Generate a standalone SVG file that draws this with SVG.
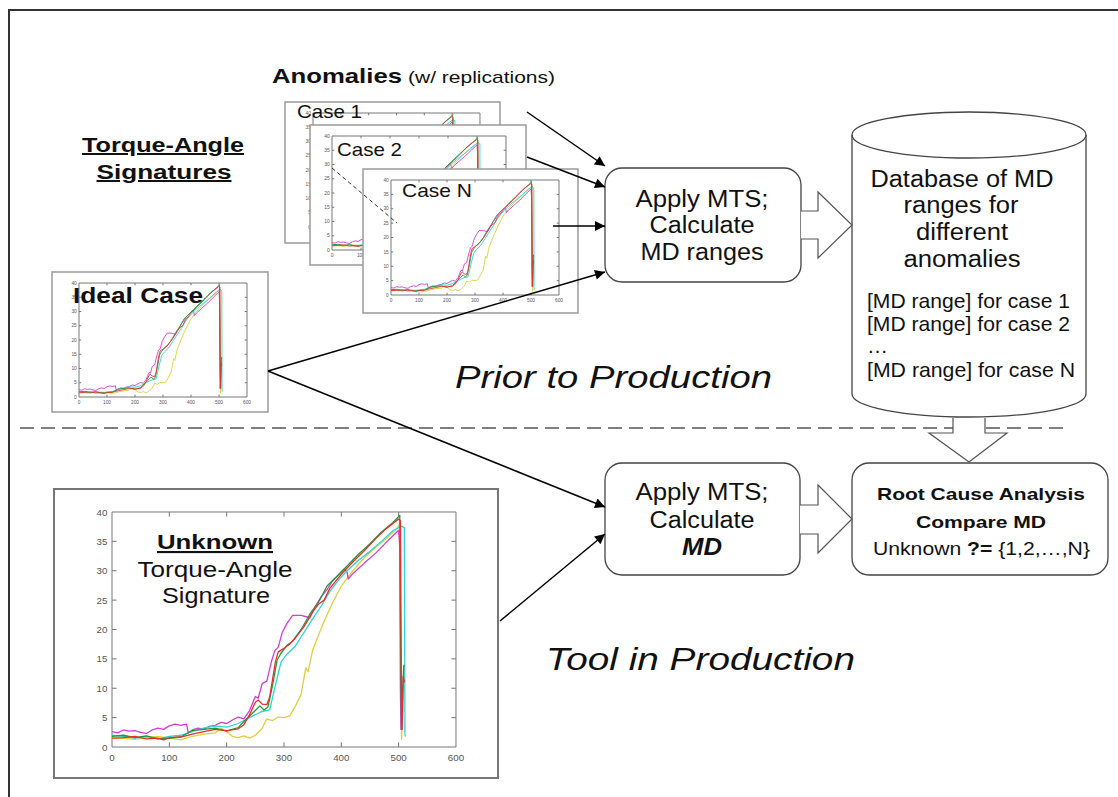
<svg xmlns="http://www.w3.org/2000/svg" xmlns:xlink="http://www.w3.org/1999/xlink" width="1118" height="797" viewBox="0 0 1118 797">
<style>
text{font-family:"Liberation Sans",Arial,sans-serif;fill:#111}
.frame{fill:#fff;stroke:#9a9a9a;stroke-width:1.5}
.box{fill:#fff;stroke:#444;stroke-width:1.3}
.blk{fill:#fff;stroke:#555;stroke-width:1.2}
.c{fill:none;vector-effect:non-scaling-stroke;stroke-linejoin:round}
.ax{fill:none;stroke:#777;vector-effect:non-scaling-stroke;stroke-width:1}
.tl{font-size:17px;fill:#555}
.conn{stroke:#000;stroke-width:1.5;fill:none;marker-end:url(#ah)}
.b{font-weight:bold}
.u{text-decoration:underline}
.big{font-size:23px}
</style>
<defs>
<marker id="ah" viewBox="0 0 10 10" refX="10" refY="5" markerWidth="13" markerHeight="10" markerUnits="userSpaceOnUse" orient="auto"><path d="M0,0 L10,5 L0,10 z" fill="#000"/></marker>
<g id="axes">
<rect class="ax" x="0" y="-400" width="600" height="400"/>
<path class="ax" d="M100,0v-8M200,0v-8M300,0v-8M400,0v-8M500,0v-8M100,-400v8M200,-400v8M300,-400v8M400,-400v8M500,-400v8M0,-50h8M0,-100h8M0,-150h8M0,-200h8M0,-250h8M0,-300h8M0,-350h8M600,-50h-8M600,-100h-8M600,-150h-8M600,-200h-8M600,-250h-8M600,-300h-8M600,-350h-8"/>
<g class="tl" text-anchor="end">
<text x="-8" y="6" class="tl">0</text><text x="-8" y="-44" class="tl">5</text><text x="-8" y="-94" class="tl">10</text><text x="-8" y="-144" class="tl">15</text><text x="-8" y="-194" class="tl">20</text><text x="-8" y="-244" class="tl">25</text><text x="-8" y="-294" class="tl">30</text><text x="-8" y="-344" class="tl">35</text><text x="-8" y="-394" class="tl">40</text>
</g>
<g text-anchor="middle">
<text x="0" y="24" class="tl">0</text><text x="100" y="24" class="tl">100</text><text x="200" y="24" class="tl">200</text><text x="300" y="24" class="tl">300</text><text x="400" y="24" class="tl">400</text><text x="500" y="24" class="tl">500</text><text x="600" y="24" class="tl">600</text>
</g>
</g>
<g id="curves">
<polyline class="c" stroke="#e0cf3a" points="0,-14 20,-15 40,-13 60,-16 80,-18 100,-15 120,-12 140,-18 160,-22 180,-24 190,-32 200,-26 210,-18 220,-16 230,-19 240,-15 250,-20 262,-32 270,-48 280,-45 290,-51 300,-50 310,-53 320,-70 330,-90 338,-135 342,-128 350,-165 360,-190 370,-214 385,-246 400,-274 420,-300 440,-322 460,-340 480,-356 495,-370 503,-380 504,-200 505,-13 508,-80 510,-140"/>
<polyline class="c" stroke="#d43cd4" points="0,-26 10,-24 20,-29 30,-27 40,-28 50,-25 60,-23 70,-29 80,-32 90,-30 100,-36 110,-39 120,-37 130,-39 133,-24 140,-29 150,-32 160,-30 170,-35 180,-37 190,-42 200,-40 210,-46 220,-51 230,-48 240,-62 250,-86 255,-83 262,-108 270,-112 278,-145 284,-164 290,-170 297,-195 305,-210 315,-224 330,-224 345,-220 355,-240 365,-256 375,-268 385,-283 395,-293 405,-303 410,-298 412,-286 420,-295 440,-313 460,-330 480,-350 500,-369 502,-340 503,-100 504,-30 506,-60"/>
<polyline class="c" stroke="#30d4d4" points="0,-20 20,-18 40,-15 60,-18 80,-14 100,-18 120,-20 140,-26 160,-32 180,-36 200,-34 220,-40 240,-50 260,-60 275,-63 285,-105 295,-145 305,-158 320,-172 335,-195 350,-218 365,-240 380,-265 395,-284 410,-300 430,-318 450,-333 470,-350 490,-368 505,-376 510,-373 511,-20 512,-18"/>
<polyline class="c" stroke="#1f9a3a" points="0,-18 20,-20 40,-16 60,-19 80,-14 100,-15 120,-17 140,-28 160,-30 180,-32 200,-27 220,-33 235,-48 250,-62 258,-70 265,-63 272,-68 280,-105 288,-148 295,-160 305,-173 315,-180 330,-200 345,-226 360,-246 375,-274 390,-288 410,-308 430,-328 450,-346 470,-366 490,-382 502,-394 503,-240 505,-30 507,-100 509,-140"/>
<polyline class="c" stroke="#e8302a" points="0,-15 20,-16 40,-18 60,-14 80,-15 90,-12 100,-16 120,-17 140,-22 160,-26 180,-30 200,-28 220,-31 230,-38 240,-55 250,-76 255,-80 262,-73 270,-72 275,-85 285,-145 290,-162 300,-168 310,-175 320,-186 335,-205 350,-230 360,-243 370,-250 380,-270 400,-294 420,-315 440,-334 460,-355 480,-373 500,-388 503,-385 504,-200 505,-60 506,-30 508,-120 510,-110"/>
</g>
</defs>

<rect width="1118" height="797" fill="#fff"/>
<path d="M9,797 V10 H1118" fill="none" stroke="#333" stroke-width="2"/>

<g id="title-signatures">
<text x="163" y="152" text-anchor="middle" class="b u" font-size="20" textLength="162" lengthAdjust="spacingAndGlyphs">Torque-Angle</text>
<text x="164" y="179" text-anchor="middle" class="b u" font-size="20" textLength="135" lengthAdjust="spacingAndGlyphs">Signatures</text>
</g>

<g id="node-anomalies">
<text x="272" y="83" class="b" font-size="21" textLength="130" lengthAdjust="spacingAndGlyphs">Anomalies</text>
<text x="408" y="83" font-size="17" textLength="147" lengthAdjust="spacingAndGlyphs">(w/ replications)</text>
<g id="case1">
<rect class="frame" x="285" y="102" width="215" height="141"/>
<use href="#axes" transform="translate(313,227) scale(0.2783,0.285)"/>
<use href="#curves" stroke-width="0.9" transform="translate(313,227) scale(0.2783,0.285)"/>
<text x="297" y="118" font-size="19" textLength="65" lengthAdjust="spacingAndGlyphs">Case 1</text>
</g>
<g id="case2">
<rect class="frame" x="310" y="125" width="216" height="140"/>
<use href="#axes" transform="translate(332,250) scale(0.29,0.285)"/>
<use href="#curves" stroke-width="0.9" transform="translate(332,250) scale(0.29,0.285)"/>
<text x="337" y="156" font-size="19" textLength="65" lengthAdjust="spacingAndGlyphs">Case 2</text>
</g>
<g id="caseN">
<rect class="frame" x="363" y="169" width="215" height="144"/>
<use href="#axes" transform="translate(391,295) scale(0.28,0.2875)"/>
<use href="#curves" stroke-width="0.9" transform="translate(391,295) scale(0.28,0.2875)"/>
<text x="402" y="197" font-size="19" textLength="70" lengthAdjust="spacingAndGlyphs">Case N</text>
</g>
<line x1="332" y1="168" x2="397" y2="223" stroke="#333" stroke-width="1" stroke-dasharray="4 3"/>
</g>

<g id="node-ideal">
<rect class="frame" x="52" y="272" width="216" height="140"/>
<use href="#axes" transform="translate(79,397) scale(0.28,0.285)"/>
<use href="#curves" stroke-width="0.9" transform="translate(79,397) scale(0.28,0.285)"/>
<text x="73" y="303" class="b" font-size="22" textLength="130" lengthAdjust="spacingAndGlyphs">Ideal Case</text>
</g>

<g id="node-unknown">
<rect x="54" y="489" width="444" height="289" fill="#fff" stroke="#777" stroke-width="2"/>
<use href="#axes" transform="translate(112,747) scale(0.5733,0.5875)"/>
<use href="#curves" stroke-width="1.3" transform="translate(112,747) scale(0.5733,0.5875)"/>
<text x="215" y="549" text-anchor="middle" class="b u" font-size="21" textLength="116" lengthAdjust="spacingAndGlyphs">Unknown</text>
<text x="215" y="577" text-anchor="middle" font-size="22" textLength="155" lengthAdjust="spacingAndGlyphs">Torque-Angle</text>
<text x="216" y="603" text-anchor="middle" font-size="22" textLength="108" lengthAdjust="spacingAndGlyphs">Signature</text>
</g>

<g id="node-apply1">
<rect class="box" x="605" y="168" width="196" height="114" rx="17"/>
<text x="702" y="207" text-anchor="middle" class="big" textLength="133" lengthAdjust="spacingAndGlyphs">Apply MTS;</text>
<text x="702" y="233" text-anchor="middle" class="big" textLength="105" lengthAdjust="spacingAndGlyphs">Calculate</text>
<text x="702" y="260" text-anchor="middle" class="big" textLength="123" lengthAdjust="spacingAndGlyphs">MD ranges</text>
</g>

<g id="node-db">
<path class="box" d="M852,135 V394 A117,23 0 0 0 1086,394 V135 A117,23 0 0 0 852,135 Z"/>
<path d="M852,135 A117,23 0 0 0 1086,135" fill="none" stroke="#444" stroke-width="1.3"/>
<text x="962" y="187" text-anchor="middle" class="big" textLength="183" lengthAdjust="spacingAndGlyphs">Database of MD</text>
<text x="961" y="213" text-anchor="middle" class="big" textLength="115" lengthAdjust="spacingAndGlyphs">ranges for</text>
<text x="962" y="240" text-anchor="middle" class="big" textLength="92" lengthAdjust="spacingAndGlyphs">different</text>
<text x="962" y="267" text-anchor="middle" class="big" textLength="117" lengthAdjust="spacingAndGlyphs">anomalies</text>
<text x="867" y="308" font-size="21" textLength="203" lengthAdjust="spacingAndGlyphs">[MD range] for case 1</text>
<text x="867" y="331" font-size="21" textLength="203" lengthAdjust="spacingAndGlyphs">[MD range] for case 2</text>
<text x="867" y="353" font-size="21">…</text>
<text x="867" y="377" font-size="21" textLength="208" lengthAdjust="spacingAndGlyphs">[MD range] for case N</text>
</g>

<g id="node-apply2">
<rect class="box" x="605" y="463" width="195" height="112" rx="17"/>
<text x="702" y="500" text-anchor="middle" class="big" textLength="133" lengthAdjust="spacingAndGlyphs">Apply MTS;</text>
<text x="702" y="528" text-anchor="middle" class="big" textLength="105" lengthAdjust="spacingAndGlyphs">Calculate</text>
<text x="702" y="555" text-anchor="middle" class="big b" font-style="italic" textLength="40" lengthAdjust="spacingAndGlyphs">MD</text>
</g>

<g id="node-rootcause">
<rect class="box" x="852" y="463" width="256" height="112" rx="17"/>
<text x="981" y="500" text-anchor="middle" class="b" font-size="17" textLength="208" lengthAdjust="spacingAndGlyphs">Root Cause Analysis</text>
<text x="981" y="528" text-anchor="middle" class="b" font-size="17" textLength="130" lengthAdjust="spacingAndGlyphs">Compare MD</text>
<text x="873" y="555" font-size="18" textLength="217" lengthAdjust="spacingAndGlyphs">Unknown <tspan font-weight="bold">?=</tspan> {1,2,…,N}</text>
</g>

<g id="phase-labels">
<line x1="20" y1="428" x2="1070" y2="428" stroke="#555" stroke-width="1.5" stroke-dasharray="14 7"/>
<text x="455" y="388" font-size="31" font-style="italic" textLength="317" lengthAdjust="spacingAndGlyphs">Prior to Production</text>
<text x="546" y="670" font-size="31" font-style="italic" textLength="309" lengthAdjust="spacingAndGlyphs">Tool in Production</text>
</g>

<g id="connectors">
<line class="conn" x1="527" y1="112" x2="605" y2="166"/>
<line class="conn" x1="527" y1="157" x2="605" y2="187"/>
<line class="conn" x1="553" y1="226" x2="605" y2="226"/>
<path class="conn" d="M268,371 L605,272"/>
<path class="conn" d="M268,371 L605,507"/>
<line class="conn" x1="500" y1="621" x2="605" y2="534"/>
<path class="blk" d="M801,211 H818 V192 L852,225 L818,258 V239 H801"/>
<path class="blk" d="M800,505 H818 V485 L852,519 L818,553 V534 H800"/>
<path class="blk" d="M953,418 V433 H929 L969,462 L1007,433 H985 V418"/>
</g>
</svg>
